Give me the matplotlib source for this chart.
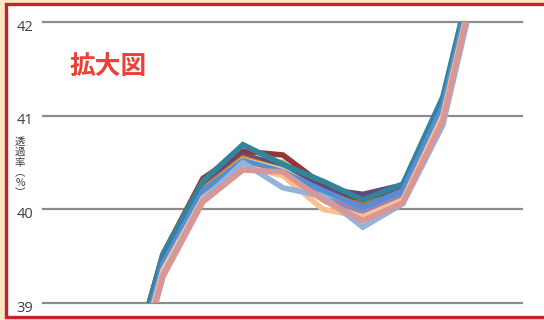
import matplotlib
matplotlib.use("Agg")
import matplotlib.pyplot as plt
import matplotlib.transforms as mtrans
from matplotlib.patches import Rectangle

plt.rcParams['font.family'] = ['Open Sans', 'Noto Sans CJK JP', 'DejaVu Sans']

# sample points (index 0 .. 9), only the zoomed window is shown
points = list(range(10))

s_blue      = [37.90, 39.45, 40.25, 40.56, 40.45, 40.24, 40.10, 40.25, 41.15, 42.90]
s_red       = [38.00, 39.52, 40.33, 40.62, 40.58, 40.26, 40.08, 40.25, 41.16, 42.92]
s_green     = [37.90, 39.45, 40.22, 40.56, 40.50, 40.16, 39.95, 40.20, 41.12, 42.88]
s_purple    = [37.95, 39.47, 40.26, 40.58, 40.46, 40.22, 40.16, 40.26, 41.16, 42.92]
s_teal      = [38.00, 39.52, 40.30, 40.69, 40.48, 40.30, 40.10, 40.27, 41.20, 42.96]
s_orange    = [37.90, 39.42, 40.22, 40.55, 40.42, 40.14, 40.05, 40.17, 41.10, 42.90]
s_ltblue2   = [37.88, 39.42, 40.20, 40.52, 40.40, 40.20, 40.02, 40.20, 41.10, 42.88]
s_ltpurple  = [37.85, 39.40, 40.18, 40.50, 40.38, 40.12, 39.98, 40.15, 41.05, 42.85]
s_ltgreen   = [37.88, 39.42, 40.20, 40.53, 40.42, 40.18, 39.92, 40.18, 41.08, 42.86]
s_ltorange  = [37.80, 39.35, 40.12, 40.46, 40.36, 40.00, 39.92, 40.10, 41.00, 42.80]
s_pink      = [37.70, 39.28, 40.08, 40.42, 40.40, 40.10, 39.88, 40.07, 40.95, 42.78]
s_ltblue    = [37.75, 39.30, 40.10, 40.50, 40.23, 40.14, 39.81, 40.06, 40.90, 42.72]

series = [
    (s_blue, '#4F81BD'),
    (s_green, '#9BBB59'),
    (s_red, '#943634'),
    (s_purple, '#604A7B'),
    (s_orange, '#E46C0A'),
    (s_ltgreen, '#C3D69B'),
    (s_ltpurple, '#9983B5'),
    (s_teal, '#31849B'),
    (s_ltblue2, '#558ED5'),
    (s_ltorange, '#FAC090'),
    (s_ltblue, '#95B3D7'),
    (s_pink, '#D99694'),
]

yticks = [39, 40, 41, 42]
ylabel_chars = ['透', '過', '率', '︵', '%', '︶']

fig = plt.figure(figsize=(5.44, 3.2), dpi=100, facecolor='#FCE7C4')
W, H = 544, 320

# white panel with red frame
frame = Rectangle((6 / W, 3 / H), 1.2, 313 / H, transform=fig.transFigure,
                  facecolor='white', edgecolor='#C8202E', linewidth=2.4, zorder=-5)
fig.patches.append(frame)

ax = fig.add_axes([43 / W, 1 - 303 / H, (522 - 43) / W, (303 - 22) / H])
ax.set_facecolor('none')
ax.set_zorder(2)

for vals, col in series:
    ax.plot(points, vals, color=col, linewidth=4.0, solid_joinstyle='miter', zorder=3)

ax.set_xlim(-2, 9.98)
ax.set_ylim(39, 42)
ax.set_yticks(yticks)
ax.set_yticklabels([str(t) for t in yticks])
ax.set_xticks([])
for y in yticks:
    ax.axhline(y, color='#8C8C8C', linewidth=1.6, zorder=1, clip_on=False)
for s in ax.spines.values():
    s.set_visible(False)
ax.tick_params(axis='y', length=0, pad=7, labelsize=10.5, labelcolor='#404040')
offset = mtrans.ScaledTranslation(0, -3 / 100, fig.dpi_scale_trans)
for lab in ax.get_yticklabels():
    lab.set_transform(lab.get_transform() + offset)

# vertical axis title, characters stacked
for i, ch in enumerate(ylabel_chars):
    fig.text(20 / W, 1 - (142 + i * 10.3) / H, ch, ha='center', va='center',
             fontsize=7.5, color='#404040',
             family=['Noto Sans CJK JP', 'DejaVu Sans'])

fig.text(108 / W, 1 - 67 / H, '拡大図', ha='center', va='center', fontsize=18.5,
         fontweight='bold', color='#EA4038', family=['Noto Sans CJK JP', 'DejaVu Sans'])

fig.savefig('out.png', dpi=100, facecolor=fig.get_facecolor())
